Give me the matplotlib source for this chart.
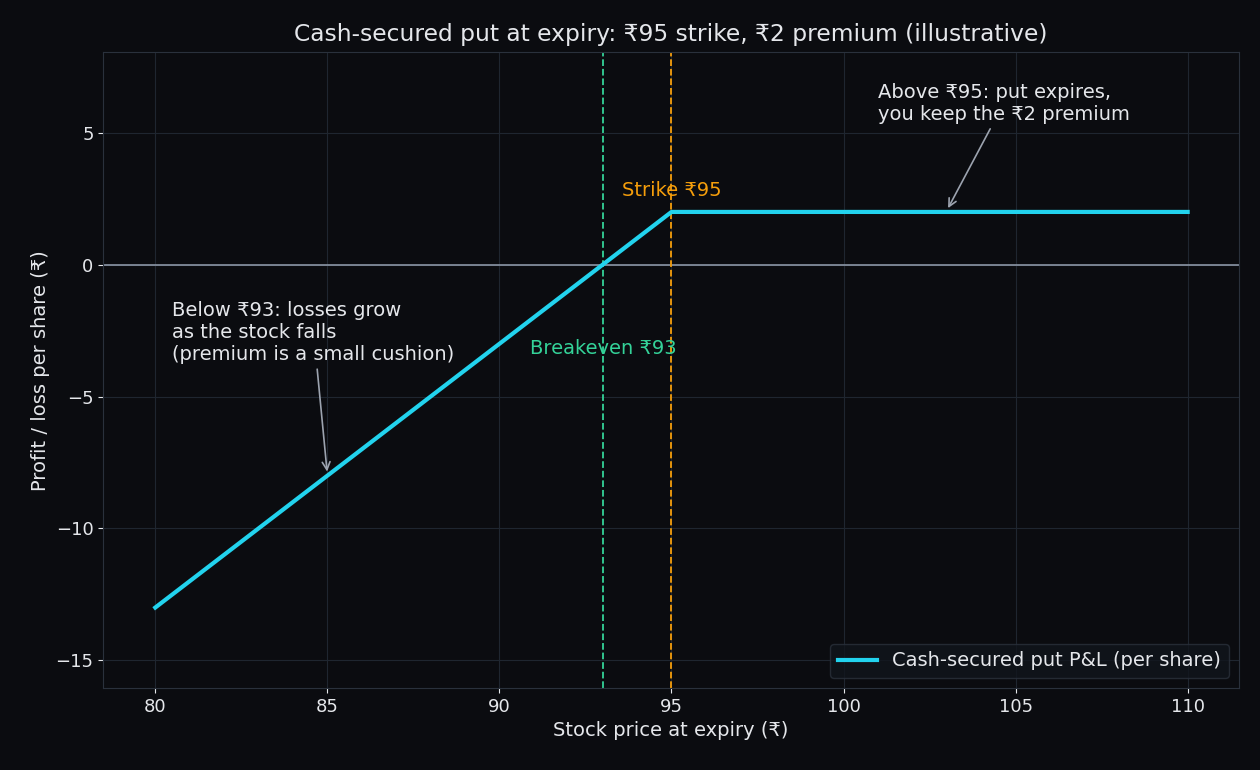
import matplotlib
matplotlib.use("Agg")
import matplotlib.pyplot as plt

# ── Data ──────────────────────────────────────────────────────────────────────
STRIKE    = 95
PREMIUM   = 2
BREAKEVEN = STRIKE - PREMIUM
price     = [80, 95, 110]
pnl       = [-13, 2, 2]

BG      = "#0b0c10"
FG      = "#e5e7eb"
CYAN    = "#22d3ee"
GREEN   = "#34d399"
ORANGE  = "#f59e0b"
GRID    = "#1f2630"

plt.rcParams["font.family"] = ["DejaVu Sans"]

fig = plt.figure(figsize=(12.6, 7.7), dpi=100, facecolor=BG)
ax = fig.add_axes([0.082, 0.1065, 0.901, 0.8255], facecolor=BG)

ax.plot(price, pnl, color=CYAN, lw=3, label="Cash-secured put P&L (per share)", zorder=3)
ax.axhline(0, color="#8b95a5", lw=1.2, zorder=2)
ax.axvline(BREAKEVEN, color=GREEN, ls="--", lw=1.3)
ax.axvline(STRIKE, color=ORANGE, ls="--", lw=1.3)

ax.text(STRIKE - 1.45, 2.6, f"Strike ₹{STRIKE}", color=ORANGE, fontsize=14)
ax.text(BREAKEVEN - 2.1, -3.4, f"Breakeven ₹{BREAKEVEN}", color=GREEN, fontsize=14)

ax.annotate("Above ₹95: put expires,\nyou keep the ₹2 premium",
            xy=(103, 2.05), xytext=(101, 5.5), color=FG, fontsize=14,
            arrowprops=dict(arrowstyle="->", color="#9ca3af", lw=1.2))
ax.annotate("Below ₹93: losses grow\nas the stock falls\n(premium is a small cushion)",
            xy=(85, -7.95), xytext=(80.5, -3.6), color=FG, fontsize=14,
            arrowprops=dict(arrowstyle="->", color="#9ca3af", lw=1.2))

ax.set_xlim(78.49, 111.48)
ax.set_ylim(-16.05, 8.05)
ax.set_xticks([80, 85, 90, 95, 100, 105, 110])
ax.set_yticks([-15, -10, -5, 0, 5])
ax.grid(True, color=GRID, lw=0.8)
ax.tick_params(colors=FG, labelsize=13)
for s in ax.spines.values():
    s.set_color("#2a313c")

ax.set_title(f"Cash-secured put at expiry: ₹{STRIKE} strike, ₹{PREMIUM} premium (illustrative)",
             color=FG, fontsize=16.8, pad=8)
ax.set_xlabel("Stock price at expiry (₹)", color=FG, fontsize=14)
ax.set_ylabel("Profit / loss per share (₹)", color=FG, fontsize=14)

leg = ax.legend(loc="lower right", fontsize=14, facecolor="#11151c", edgecolor="#2a313c")
for t in leg.get_texts():
    t.set_color(FG)

fig.savefig("out.png", dpi=100, facecolor=BG)
